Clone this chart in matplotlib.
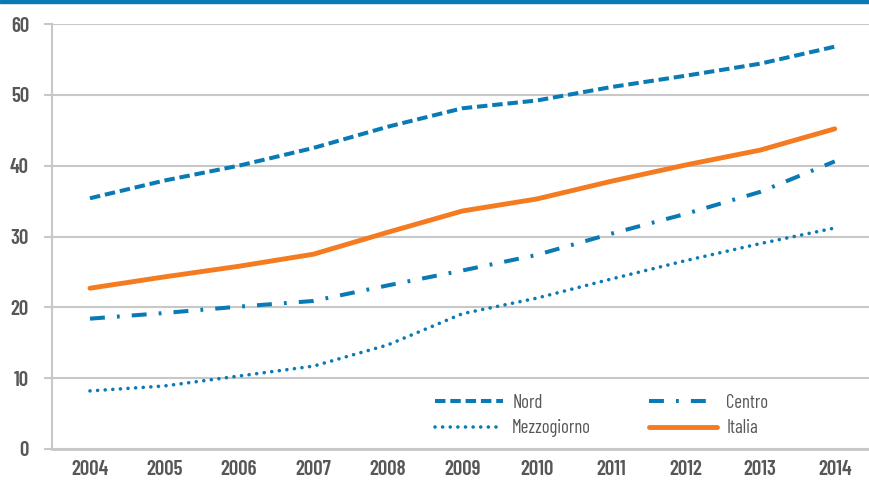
import matplotlib.pyplot as plt
import matplotlib as mpl
from matplotlib.patches import Rectangle

years = [2004, 2005, 2006, 2007, 2008, 2009, 2010, 2011, 2012, 2013, 2014]
nord = [35.4, 37.9, 40.0, 42.5, 45.5, 48.1, 49.2, 51.1, 52.7, 54.4, 56.8]
centro = [18.4, 19.2, 20.1, 20.9, 23.1, 25.2, 27.4, 30.4, 33.2, 36.3, 40.6]
mezzogiorno = [8.2, 8.9, 10.3, 11.7, 14.7, 19.1, 21.3, 24.0, 26.6, 29.0, 31.2]
italia = [22.7, 24.3, 25.8, 27.5, 30.6, 33.6, 35.3, 37.8, 40.1, 42.2, 45.2]

blue = '#0a7ab5'
orange = '#f47b20'
grey_txt = '#575757'
grid_c = '#c8c8c8'

mpl.rcParams['font.family'] = ['Barlow Condensed', 'DejaVu Sans']

fig = plt.figure(figsize=(8.69, 4.84), dpi=100)
ax = fig.add_axes([52/869, 35/484, 817/869, 425/484])

fig.patches.append(Rectangle((0, 481/484), 1, 3/484, transform=fig.transFigure,
                             color=blue, zorder=5))

ax.plot(years, nord, color=blue, lw=2.9, linestyle=(0, (2.6, 1.2)),
        dash_capstyle='butt', label='Nord')
ax.plot(years, mezzogiorno, color=blue, lw=2.6, linestyle=(0, (0.01, 2.1)),
        dash_capstyle='round', label='Mezzogiorno')
ax.plot(years, centro, color=blue, lw=2.9, linestyle=(0, (3.7, 3, 0.7, 3)),
        dash_capstyle='butt', label='Centro')
ax.plot(years, italia, color=orange, lw=3.5, solid_capstyle='round', label='Italia')

ax.set_xlim(2003.49, 2014.46)
ax.set_ylim(0, 60)
ax.set_xticks(years)
ax.set_yticks(range(0, 61, 10))
ax.yaxis.grid(True, color=grid_c, lw=1.5)
ax.set_axisbelow(True)
for s in ['top', 'right']:
    ax.spines[s].set_visible(False)
ax.spines['left'].set_color(grid_c)
ax.spines['left'].set_linewidth(1.5)
ax.spines['bottom'].set_color(grid_c)
ax.spines['bottom'].set_linewidth(2)
ax.tick_params(axis='y', length=6, width=1.5, color=grid_c, pad=10.5,
               labelsize=15, labelcolor=grey_txt)
ax.tick_params(axis='x', length=0, pad=8, labelsize=15, labelcolor=grey_txt)
for lab in ax.get_xticklabels() + ax.get_yticklabels():
    lab.set_fontweight(600)

leg = ax.legend(ncol=2, frameon=False, loc='lower left', bbox_to_anchor=(0.4485, -0.012),
                fontsize=13.5, handlelength=3.6, columnspacing=3.1, labelspacing=0.4,
                handletextpad=0.5, labelcolor=grey_txt)
for t in leg.get_texts():
    t.set_fontweight(400)

fig.savefig('out.png', dpi=100)
